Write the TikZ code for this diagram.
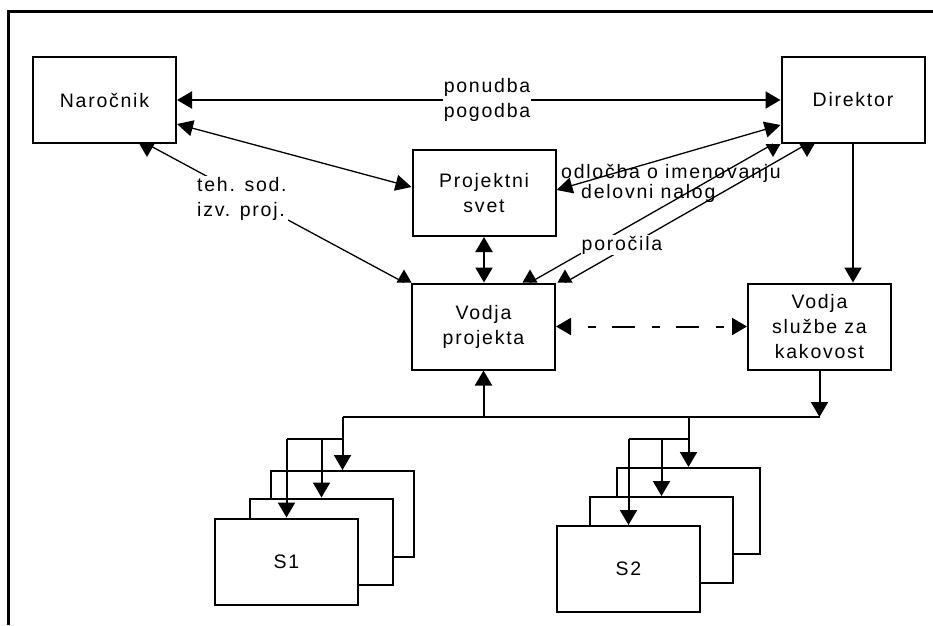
\documentclass[tikz,border=0pt]{standalone}
\usepackage{fontspec}
\newfontfamily\lab{Liberation Sans}[LetterSpace=9]
\usetikzlibrary{arrows.meta}
\begin{document}
\begin{tikzpicture}[x=1pt,y=-1pt,
  font=\lab\fontsize{19.5}{25}\selectfont,
  box/.style={draw, line width=2pt, fill=white, minimum width=143pt,
    minimum height=86pt, inner sep=0pt, align=center},
  link/.style={line width=2pt},
  slant/.style={line width=1.3pt},
  arr/.style={link, -{Triangle[length=15pt,width=17pt]}},
  both/.style={link, {Triangle[length=15pt,width=17pt]}-{Triangle[length=15pt,width=17pt]}},
  bothslant/.style={slant, {Triangle[length=16pt,width=16pt]}-{Triangle[length=16pt,width=16pt]}},
  lbl/.style={inner sep=1pt, align=center},
  headdown/.pic={\fill (-7.5,0) -- (7.5,0) -- (0,13) -- cycle;},
  headup/.pic={\fill (-7.5,0) -- (7.5,0) -- (0,-13) -- cycle;}
]
\useasboundingbox (0,0) rectangle (933,625);

% outer frame (left and top edges)
\draw[line width=3pt] (8.5,625) -- (8.5,11) -- (933,11);

% main boxes
\node[box] (nar) at (104.5,100) {Naročnik};
\node[box] (dir) at (853,100) {Direktor};
\node[box] (ps)  at (484,193) {Projektni\\svet};
\node[box] (vp)  at (483.5,326.5) {Vodja\\projekta};
\node[box] (vsk) at (819.5,326.5) {Vodja\\službe za\\kakovost};

% stacked sub-units S1 (back to front)
\node[box] (s1c) at (342.5,514) {};
\node[box] (s1b) at (321.5,541.5) {};
\node[box] (s1a) at (286.5,561.5) {S1};
% stacked sub-units S2 (back to front)
\node[box] (s2c) at (688.5,511) {};
\node[box] (s2b) at (661.5,540) {};
\node[box] (s2a) at (628.5,569) {S2};

% levels of the distribution lines
\coordinate (bus) at (0,417);
\coordinate (fan) at (0,439);

% top-level connections
\draw[both] (nar.east) -- (dir.west);
\draw[bothslant] ([yshift=-24pt]nar.east) -- ([yshift=6pt]ps.west);
\draw[bothslant] ([yshift=-25pt]dir.west) -- ([yshift=3pt]ps.east);
\draw[both] (ps.south) -- (ps.south |- vp.north);
\draw[arr] (dir.south) -- (dir.south |- vsk.north);
\draw[link, dash pattern=on 8pt off 16pt on 23pt off 17pt, dash phase=47pt,
  {Triangle[length=15pt,width=17pt]}-{Triangle[length=15pt,width=17pt]}]
  (vp.east) -- (vsk.west);

% slanted connections with edge-mounted heads
\draw[slant] ([xshift=42.5pt]nar.south) -- ([xshift=-7pt]vp.north west);
\draw[slant] ([xshift=-80pt]dir.south) -- ([xshift=46.5pt]vp.north);
\draw[slant] ([xshift=-46pt]dir.south) -- ([xshift=9pt]vp.north east);
\pic at ([xshift=42.5pt]nar.south) {headdown};
\pic at ([xshift=-7pt]vp.north west) {headup};
\pic at ([xshift=-80pt]dir.south) {headdown};
\pic at ([xshift=46.5pt]vp.north) {headup};
\pic at ([xshift=-46pt]dir.south) {headdown};
\pic at ([xshift=9pt]vp.north east) {headup};

% distribution bus
\draw[link] (s1c.north |- bus) -- (vsk.south |- bus);
\draw[arr] (vsk.south) -- (vsk.south |- bus);
\draw[arr] (vp.south |- bus) -- (vp.south);

% feed to S1
\draw[link] (s1c.north |- bus) -- (s1c.north |- fan) -- (s1a.north |- fan);
\draw[arr] (s1c.north |- fan) -- (s1c.north);
\draw[arr] (s1b.north |- fan) -- (s1b.north);
\draw[arr] (s1a.north |- fan) -- (s1a.north);
% feed to S2
\draw[link] (s2c.north |- bus) -- (s2c.north |- fan) -- (s2a.north |- fan);
\draw[arr] (s2c.north |- fan) -- (s2c.north);
\draw[arr] (s2b.north |- fan) -- (s2b.north);
\draw[arr] (s2a.north |- fan) -- (s2a.north);

% connector labels
\node[lbl, fill=white] (pon) at (487,100) {ponudba\\pogodba};
\node[lbl, fill=white, anchor=west, align=left] (teh) at (196,199) {teh. sod.\\izv. proj.};
\node[lbl, anchor=north west, inner sep=0pt, align=left,
  font=\lab\fontsize{19.5}{20}\selectfont] (odl) at (561,164)
  {odločba o imenovanju\\\hspace*{20pt}delovni nalog};
\node[lbl, fill=white] (por) at (622,245) {poročila};
\end{tikzpicture}
\end{document}
